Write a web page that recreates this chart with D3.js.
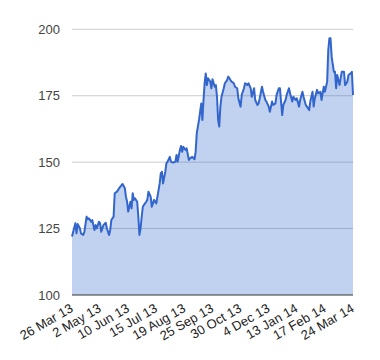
<!DOCTYPE html>
<html>
<head>
<meta charset="utf-8">
<script src="https://cdn.jsdelivr.net/npm/d3@7"></script>
<style>
  html, body { margin: 0; padding: 0; background: #fff; }
  svg { display: block; font-family: "Liberation Sans", Arial, sans-serif; }
</style>
</head>
<body>
<svg id="chart" width="380" height="360"></svg>
<script>
// ---- data ----
const tickLabels = ["26 Mar 13", "2 May 13", "10 Jun 13", "15 Jul 13", "19 Aug 13",
  "25 Sep 13", "30 Oct 13", "4 Dec 13", "13 Jan 14", "17 Feb 14", "24 Mar 14"];
const tickDays = [0, 25, 50, 75, 100, 125, 150, 175, 200, 225, 250];
const yTicks = [100, 125, 150, 175, 200];
const dayIndex = [0, 3, 4, 5, 7, 8, 10, 11, 13, 14, 15, 17, 18, 20, 21, 22, 24, 25, 26, 28,
  30, 31, 33, 34, 35, 37, 38, 40, 42, 43, 45, 47, 48, 49, 50, 52, 53, 54, 55, 56,
  58, 59, 60, 61, 62, 63, 64, 66, 67, 68, 70, 71, 72, 73, 74, 75, 77, 78, 79, 80,
  81, 83, 84, 85, 87, 88, 90, 92, 93, 94, 96, 97, 98, 99, 101, 102, 104, 105, 107, 109,
  110, 111, 112, 113, 115, 116, 117, 118, 119, 120, 121, 123, 124, 125, 127, 128, 129, 130, 131,
  132, 133, 135, 136, 138, 139, 141, 142, 144, 145, 147, 148, 150, 151, 153, 154, 156, 157, 159,
  160, 162, 163, 165, 166, 167, 169, 170, 172, 173, 175, 176, 178, 179, 181, 182, 184, 185, 187,
  188, 190, 191, 193, 194, 196, 197, 199, 200, 202, 203, 205, 206, 208, 209, 211, 212, 214, 215,
  216, 218, 219, 221, 222, 224, 225, 227, 228, 229, 230, 231, 233, 234, 235, 236, 238, 239, 240,
  242, 243, 245, 246, 248, 249, 250];
const values = [122, 127, 123.2, 126.7, 125.1, 123.2, 122.6, 123.8, 129.5, 128.5, 128.9, 127.6, 128.2, 124.5, 126.3, 125.1, 127.6, 127, 123.8, 126.3,
  127.2, 125.1, 122.6, 124.5, 128.2, 129.5, 138.3, 138.9, 140.2, 140.8, 141.8, 140.2, 137, 135.1, 131.4, 135.1, 132.6, 138.3, 135.8, 136.4,
  135.1, 129.5, 122.6, 125.1, 129.5, 133.2, 133.9, 135.1, 135.8, 138.9, 137, 133.2, 134.5, 135.8, 135.1, 134.5, 139.5, 142, 145.8, 146.4,
  142, 146.4, 149.6, 150.2, 152, 150.2, 149.8, 150.2, 152.7, 150.2, 154.6, 156.1, 153.9, 155.8, 154.6, 155.2, 150.8, 151.4, 152, 151.1,
  153.9, 160.9, 163.4, 165.9, 172.1, 165.9, 173.4, 179.7, 183.4, 179, 181.6, 180.3, 177.8, 181.2, 178.4, 179, 174.6, 165.9, 163.4,
  170.9, 174.6, 177.8, 179.7, 180.9, 182.2, 180.9, 180.3, 179.7, 178.4, 177.8, 174, 170.9, 175.3, 177.8, 179.7, 179, 179.7, 177.8,
  174.6, 177.8, 173.4, 171.5, 172.1, 174, 178.4, 176.5, 173.4, 172.8, 170.9, 169, 172.8, 171.5, 172.1, 175.3, 177.8, 177.8, 167.7,
  171.5, 173.4, 175.3, 177.8, 175.9, 172.8, 174.6, 173.4, 174, 170.9, 173.4, 176.5, 174.6, 171.5, 170.9, 169.6, 172.8, 176.5, 170.9,
  174, 177.2, 175.9, 176.5, 173.4, 178.4, 176.5, 180.3, 192.2, 196.6, 196.6, 189.7, 184, 184, 177.8, 182.8, 179, 181.6, 184,
  184, 179, 180.3, 182.8, 183.4, 184, 175.3];

// ---- layout ----
const plotLeft = 72, plotRight = 353, plotTop = 29.3, plotBottom = 295;
const svg = d3.select("#chart");
const x = d3.scaleLinear().domain([0, 250]).range([plotLeft, plotRight]);
const y = d3.scaleLinear().domain([100, 200]).range([plotBottom, plotTop]);

const data = dayIndex.map((d, i) => ({ d, v: values[i] }));

// gridlines
svg.append("g").selectAll("line").data(yTicks.filter(t => t !== 100)).join("line")
  .attr("x1", plotLeft).attr("x2", plotRight)
  .attr("y1", d => y(d)).attr("y2", d => y(d))
  .attr("stroke", "#cccccc").attr("stroke-width", 1);

// area
svg.append("path").datum(data)
  .attr("fill", "#3366cc").attr("fill-opacity", 0.3)
  .attr("d", d3.area().x(p => x(p.d)).y0(y(100)).y1(p => y(p.v)));

// line
svg.append("path").datum(data)
  .attr("fill", "none").attr("stroke", "#3366cc").attr("stroke-width", 2)
  .attr("stroke-linejoin", "round")
  .attr("d", d3.line().x(p => x(p.d)).y(p => y(p.v)));

// baseline
svg.append("line").attr("x1", plotLeft).attr("x2", plotRight)
  .attr("y1", y(100)).attr("y2", y(100))
  .attr("stroke", "#333333").attr("stroke-width", 1);

// y labels
svg.append("g").selectAll("text").data(yTicks).join("text")
  .attr("x", 60).attr("y", d => y(d)).attr("dy", "0.35em")
  .attr("text-anchor", "end").attr("font-size", 13).attr("fill", "#444444")
  .text(d => d);

// x labels
svg.append("g").selectAll("text").data(tickDays).join("text")
  .attr("transform", d => `translate(${x(d) + 2},${plotBottom + 16}) rotate(-30)`)
  .attr("text-anchor", "end").attr("font-size", 13).attr("fill", "#222222")
  .text((d, i) => tickLabels[i]);
</script>
</body>
</html>
